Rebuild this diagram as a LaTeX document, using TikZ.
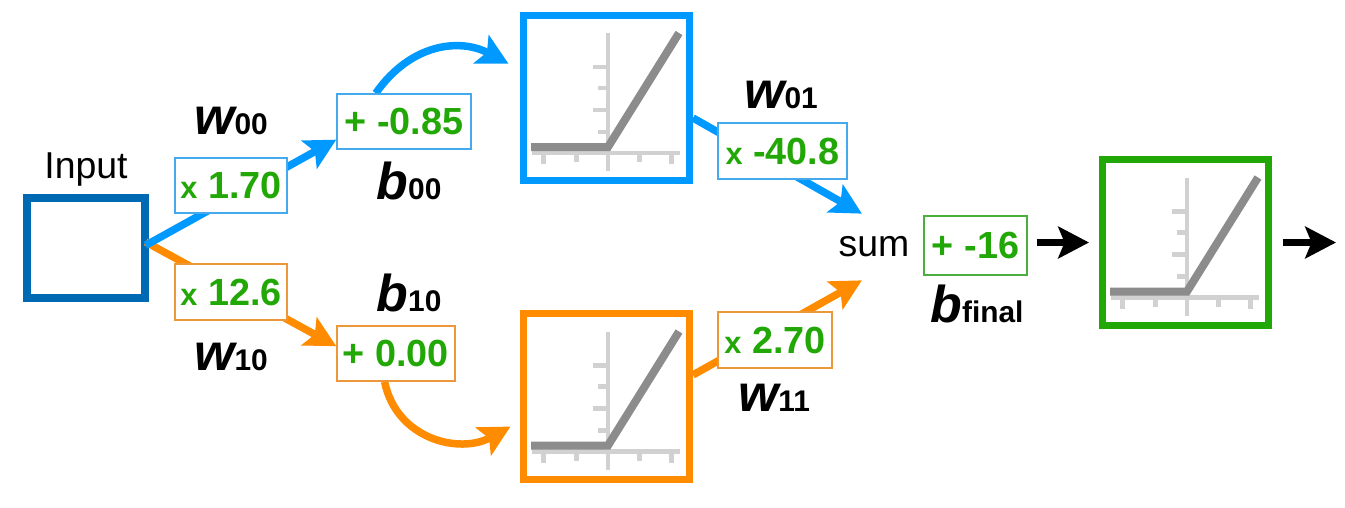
\documentclass[tikz,border=0pt]{standalone}
\usepackage{fontspec}
\setmainfont{Liberation Sans}
\usetikzlibrary{
  arrows.meta,
  backgrounds,
}
\definecolor{wblue}{HTML}{0099FF}
\definecolor{wblueline}{HTML}{45A9EE}
\definecolor{inblue}{HTML}{0069B4}
\definecolor{worange}{HTML}{FF8C00}
\definecolor{worangeline}{HTML}{EC973A}
\definecolor{vgreen}{HTML}{22A806}
\definecolor{vgreenline}{HTML}{4BAE3E}
\newcommand{\mulval}[1]{{\fontsize{17.5}{20}\selectfont x}\ #1}
\newcommand{\wlab}[1]{{\fontsize{29.5}{30}\selectfont\itshape w}{\fontsize{17}{20}\selectfont #1}}
\newcommand{\blab}[1]{{\fontsize{29.5}{30}\selectfont\itshape b}{\fontsize{17}{20}\selectfont #1}}
\tikzset{
  conn/.style={line width=.15cm, -{Stealth[length=17.5pt,width=18pt,inset=3.6pt]}},
  actbox/.style={draw, line width=.14cm, fill=white, minimum size=3.32cm, inner sep=0pt},
  valbox/.style={draw, line width=.03cm, fill=white, inner sep=0pt, text=vgreen,
    font=\fontsize{21.5}{24}\selectfont\bfseries},
  lab/.style={anchor=base, font=\bfseries},
  relu/.pic={
    \draw[line width=.09cm, black!18] (1.5,-65) -- (1.5,73);
    \draw[line width=.09cm, black!18] (-74.5,55) -- (73.5,55);
    \foreach \tx/\tl in {-63/66,-30/64,33/64,65/66} {
      \draw[line width=.09cm, black!18] (\tx,55) -- (\tx,\tl);
    }
    \foreach \ty/\tl in {-31/-13.5,-10/-8.5,12/-13.5,34/-8.5} {
      \draw[line width=.09cm, black!18] (1.5,\ty) -- (\tl,\ty);
    }
    \draw[line width=.16cm, black!45] (-75.5,49) -- (1.5,49) -- (72.5,-65);
  },
}
\begin{document}
\begin{tikzpicture}[x=.02cm, y=-.02cm]
\useasboundingbox (0,0) rectangle (1345,507);
\node[anchor=base, font=\fontsize{21.3}{24}\selectfont] (inlab) at (86,178) {Input};

\node[valbox, minimum width=2.24cm, minimum height=1.1cm, draw=wblueline] (w00) at (231,185.5) {\mulval{1.70}};
\node[valbox, minimum width=2.24cm, minimum height=1.12cm, draw=worangeline] (w10) at (231,292) {\mulval{12.6}};
\node[valbox, minimum width=2.68cm, minimum height=1.1cm, draw=wblueline] (b00) at (404,121.5) {+ -0.85};
\node[valbox, minimum width=2.36cm, minimum height=1.1cm, draw=worangeline] (b10) at (396,353.5) {+ 0.00};
\node[valbox, minimum width=2.58cm, minimum height=1.12cm, draw=wblueline] (w01) at (782.5,151) {\mulval{-40.8}};
\node[valbox, minimum width=2.28cm, minimum height=1.12cm, draw=worangeline] (w11) at (775,340) {\mulval{2.70}};
\node[valbox, minimum width=2.06cm, minimum height=1.18cm, draw=vgreenline] (bfinal) at (975.5,245.5) {+ -16};

\node[lab] (w00lab) at (231,134) {\wlab{00}};
\node[lab] (b00lab) at (409,199) {\blab{00}};
\node[lab] (w10lab) at (231,370) {\wlab{10}};
\node[lab] (b10lab) at (409,311) {\blab{10}};
\node[lab] (w01lab) at (781,108) {\wlab{01}};
\node[lab] (w11lab) at (774,411) {\wlab{11}};
\node[lab] (bfinallab) at (977,322) {\blab{final}};

\node[actbox, draw=wblue] (act0) at (606.5,98) {};
\node[actbox, draw=worange] (act1) at (606.5,396.5) {};
\node[actbox, draw=vgreen] (act2) at (1185.5,242.5) {};
\pic at (act0) {relu};
\pic at (act1) {relu};
\pic at (act2) {relu};

\node[minimum width=1.44cm, minimum height=1.32cm, inner sep=0pt, font=\fontsize{21.3}{24}\selectfont] (sum) at (874,247) {sum};
\coordinate (out) at (1336,242.5);

\begin{pgfonlayer}{background}
\node[draw=inblue, line width=.15cm, minimum width=2.36cm, minimum height=2.01cm] (input) at (86,248) {};
\draw[conn, worange, shorten <=-2pt] (input.4) -- (b10.173);
\draw[conn, wblue, shorten <=-2pt] (input.4) -- (b00.195);
\draw[conn, wblue, shorten >=7.4pt] (b00.135) .. controls +(35,-50) and +(-60,-32) .. (act0.162);
\draw[conn, worange, shorten >=6.2pt] (b10.248) .. controls +(12,58) and +(-60,33) .. (act1.196);
\draw[conn, wblue] (act0.-13) -- (sum.110);
\draw[conn, worange] (act1.14) -- (sum.250);
\draw[conn, black, shorten <=5.1pt, shorten >=5.7pt] (bfinal.east |- act2) -- (act2.west);
\draw[conn, black, shorten <=6.2pt] (act2.east) -- (out);
\end{pgfonlayer}
\end{tikzpicture}
\end{document}
